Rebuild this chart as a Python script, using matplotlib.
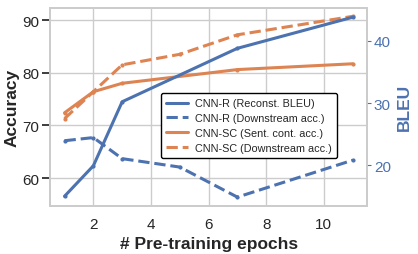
import matplotlib
matplotlib.use("Agg")
import matplotlib.pyplot as plt
from matplotlib.lines import Line2D
import seaborn as sns

# epochs where each series was measured
epochs_bleu = [1, 2, 3, 7, 11]
epochs_acc = [1, 2, 3, 5, 7, 11]
epochs_sc = [1, 2, 3, 7, 11]

cnnr_bleu = [15.0, 19.9, 30.2, 38.8, 43.8]
cnnr_down = [67.1, 67.7, 63.7, 62.1, 56.4, 63.4]
cnnsc_sent = [72.4, 76.4, 78.0, 80.6, 81.7]
cnnsc_down = [71.3, 76.4, 81.5, 83.5, 87.2, 90.7]

labels = ["CNN-R (Reconst. BLEU)", "CNN-R (Downstream acc.)",
          "CNN-SC (Sent. cont. acc.)", "CNN-SC (Downstream acc.)"]

sns.set_theme(style="whitegrid")
plt.rcParams['font.family'] = ['Liberation Sans', 'DejaVu Sans']

blue = "#4C72B0"
orange = "#DD8452"

fig, ax = plt.subplots(figsize=(4.18, 2.55), dpi=100)
ax2 = ax.twinx()

ax2.plot(epochs_bleu, cnnr_bleu, color=blue, lw=2.2, marker='.', ms=4)
ax.plot(epochs_acc, cnnr_down, color=blue, lw=2.2, ls='--', marker='.', ms=4)
ax.plot(epochs_sc, cnnsc_sent, color=orange, lw=2.2, marker='.', ms=4)
ax.plot(epochs_acc, cnnsc_down, color=orange, lw=2.2, ls='--', marker='.', ms=4)

ax.set_xlim(0.5, 11.5)
ax.set_ylim(54.8, 92.3)
ax2.set_ylim(13.5, 45.3)
ax.set_xticks([2, 4, 6, 8, 10])
ax.set_yticks([60, 70, 80, 90])
ax2.set_yticks([20, 30, 40])
ax2.grid(False)

ax.tick_params(axis='both', labelsize=11, pad=2)
ax2.tick_params(axis='y', labelsize=11, colors=blue, length=3, width=0.8, pad=2)
ax.set_xlabel("# Pre-training epochs", fontsize=12.5, fontweight='bold')
ax.set_ylabel("Accuracy", fontsize=12.5, fontweight='bold', labelpad=2)
ax2.set_ylabel("BLEU", fontsize=12.5, fontweight='bold', color=blue, labelpad=4)

for s in list(ax.spines.values()) + list(ax2.spines.values()):
    s.set_color('#cccccc')

# legend shows plain lines, no dots
handles = [Line2D([], [], color=blue, lw=2.2),
           Line2D([], [], color=blue, lw=2.2, ls='--'),
           Line2D([], [], color=orange, lw=2.2),
           Line2D([], [], color=orange, lw=2.2, ls='--')]
leg = ax2.legend(handles, labels, loc='upper left',
                 bbox_to_anchor=(0.35, 0.57), borderaxespad=0, fontsize=7.8,
                 frameon=True, handlelength=2.0, borderpad=0.5,
                 labelspacing=0.45, handletextpad=0.6)
leg.get_frame().set_edgecolor('black')
leg.get_frame().set_alpha(1)

fig.subplots_adjust(left=0.12, right=0.878, top=0.965, bottom=0.19)
fig.savefig("out.png", dpi=100)
